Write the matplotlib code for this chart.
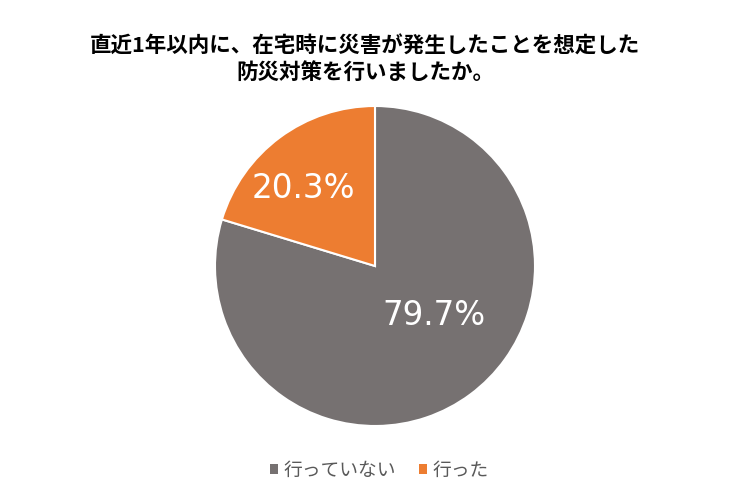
import numpy as np
import matplotlib.pyplot as plt

plt.rcParams["font.family"] = ["Noto Sans CJK JP", "DejaVu Sans"]

labels = ["行っていない", "行った"]
values = [79.7, 20.3]
colors = ["#767171", "#ED7D31"]
title = "直近1年以内に、在宅時に災害が発生したことを想定した\n防災対策を行いましたか。"

fig = plt.figure(figsize=(7.5, 5), dpi=100)
ax = fig.add_axes([215 / 750, 74 / 500, 320 / 750, 320 / 500])

wedges, _ = ax.pie(
    values,
    colors=colors,
    startangle=90,
    counterclock=False,
    wedgeprops=dict(edgecolor="white", linewidth=1.5),
)
ax.set_xlim(-1, 1)
ax.set_ylim(-1, 1)
ax.set_aspect("equal")

# label positions (angle in degrees, radius) roughly as in the original
label_pos = [(-40, 0.48), (133, 0.66)]
for v, (ang, r) in zip(values, label_pos):
    a = np.deg2rad(ang)
    ax.text(r * np.cos(a), r * np.sin(a), f"{v:.1f}%", ha="center", va="center",
            color="white", fontsize=23.5, family="DejaVu Sans")

fig.text(0.487, 0.882, title, ha="center", va="center", fontsize=15.5,
         fontweight="bold", linespacing=1.3)

leg = fig.legend(
    wedges, labels, loc="center", bbox_to_anchor=(0.506, 0.06), ncol=2,
    frameon=False, fontsize=13.5, handlelength=0.45, handleheight=0.45,
    handletextpad=0.3, columnspacing=1.2,
)
for t in leg.get_texts():
    t.set_color("#595959")
for h in leg.legend_handles:
    h.set_edgecolor("none")

fig.savefig("out.png", dpi=100)
